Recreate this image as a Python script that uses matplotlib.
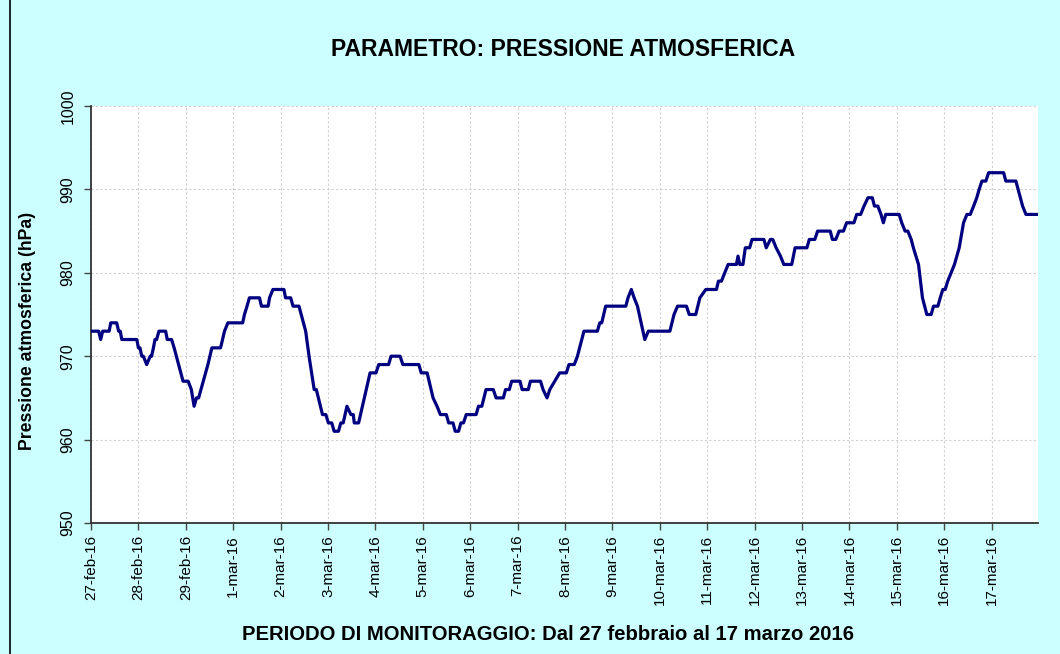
import matplotlib
matplotlib.use("Agg")
import matplotlib.pyplot as plt
from matplotlib.lines import Line2D

plt.rcParams["font.family"] = ["Liberation Sans", "DejaVu Sans"]

# hours since 27-feb-16 00:00 and pressure (hPa)
hours = [0, 3.9, 4.9, 5.9, 9.2, 10, 13, 14, 14.8, 15.6, 23.2, 24, 24.8, 25.7, 26.5, 28.2,
         30, 30.7, 31.6, 32.4, 33.2, 34.4, 37.8, 38.6, 40.8, 42.1, 46.6, 49.2, 50.8, 52.2,
         53.4, 54.5, 59.2, 61.2, 65.6, 67.6, 69.3, 76.8, 77.7, 79, 80.2, 85.3, 86.3, 89.7,
         90.4, 92.1, 97.7, 98.5, 101.1, 102.3, 105.3, 108.7, 110.4, 113, 114.1, 117.2,
         118.9, 120.2, 121.9, 123.1, 125.3, 126.5, 127.7, 129.6, 131.6, 132.8, 133.3,
         135.5, 141.3, 144.3, 145.7, 150.7, 151.9, 156.5, 157.9, 166, 167.2, 170.2, 173.2,
         175.2, 176.9, 179.9, 181.1, 183.3, 184.4, 186.1, 187.3, 188.6, 190, 195, 196.2,
         197.9, 200, 203.7, 205.1, 208.8, 209.9, 211.8, 213, 217.2, 218.3, 221.4, 222.5,
         227.6, 228.9, 230.9, 232.3, 234.8, 237.3, 240.7, 242, 244.7, 246.3, 249.6, 256.4,
         257.6, 258.6, 260.6, 270.8, 271.9, 273.6, 275, 276.7, 280.4, 282.2, 293.1, 295.2,
         297, 301.5, 302.9, 306.2, 308.3, 311.3, 316.7, 317.7, 319.2, 320.9, 322.6, 326.8,
         327.6, 328.5, 330.1, 331.3, 333.5, 334.7, 340.7, 341.9, 344, 345.2, 346.9, 349.1,
         350.8, 354.8, 356.5, 362.5, 363.7, 366.5, 367.9, 374.3, 375.4, 377.1, 378.8, 381,
         382.6, 386.3, 387.7, 389.7, 391.4, 393.4, 395.6, 396.7, 398.4, 400, 401.2, 402.4,
         409.2, 410.5, 412.2, 413.6, 415.3, 416.4, 419, 421, 423.2, 425.4, 426.6, 428.8,
         430, 431.3, 432.5, 433.8, 435.5, 437.2, 439.6, 441.8, 443.5, 445.2, 446.9, 448.5,
         449.7, 451.1, 453.1, 454.5, 462.1, 463.2, 468.3, 471.7, 473.4, 479.5]
pressure = [973, 973, 972, 973, 973, 974, 974, 973, 973, 972, 972, 971, 971, 970, 970, 969,
            970, 970, 971, 972, 972, 973, 973, 972, 972, 971, 967, 967, 966, 964,
            965, 965, 969, 971, 971, 973, 974, 974, 975, 976, 977, 977, 976, 976,
            977, 978, 978, 977, 977, 976, 976, 973, 970, 966, 966, 963,
            963, 962, 962, 961, 961, 962, 962, 964, 963, 963, 962,
            962, 968, 968, 969, 969, 970, 970, 969, 969, 968, 968, 965,
            964, 963, 963, 962, 962, 961, 961, 962, 962, 963, 963, 964,
            964, 966, 966, 965, 965, 966, 966, 967, 967, 966, 966, 967,
            967, 966, 965, 966, 967, 968, 968, 969, 969, 970, 973, 973,
            974, 974, 976, 976, 977, 978, 977, 976, 972, 973, 973, 975,
            976, 976, 975, 975, 977, 978, 978, 979, 979, 980, 981, 981,
            982, 981, 981, 983, 983, 984, 984, 983, 984, 984, 983, 982,
            981, 981, 983, 983, 984, 984, 985, 985, 984, 984, 985, 985,
            986, 986, 987, 987, 988, 989, 989, 988, 988, 987, 986, 987,
            987, 986, 985, 985, 984, 983, 981, 977, 975, 975, 976, 976,
            977, 978, 978, 979, 980, 981, 983, 986, 987, 987, 988, 989,
            990, 991, 991, 992, 992, 991, 991, 988, 987, 987]

day_labels = ["27-feb-16", "28-feb-16", "29-feb-16"] + [f"{d}-mar-16" for d in range(1, 18)]
y_ticks = [950, 960, 970, 980, 990, 1000]

BG = "#CCFFFF"
LINE = "#000080"

fig = plt.figure(figsize=(10.6, 6.54), dpi=100, facecolor=BG)
ax = fig.add_axes([91 / 1060, 1 - 523 / 654, (1038 - 91) / 1060, (523 - 106) / 654])
ax.set_facecolor("white")

ax.plot(hours, pressure, color=LINE, lw=2.3, solid_joinstyle="round", zorder=3)

ax.set_xlim(0, 479.5)
ax.set_ylim(950, 1000)
ax.set_xticks([24 * i for i in range(len(day_labels))])
ax.set_xticklabels(day_labels, rotation=90, fontsize=11)
ax.set_yticks(y_ticks)
ax.set_yticklabels([str(v) for v in y_ticks], rotation=90, va="center", fontsize=11.5)
ax.tick_params(axis="both", direction="out", length=5, width=1, color="#444444")
ax.tick_params(axis="y", pad=6)
ax.grid(True, ls=(0, (2, 2)), color="#CFCFCF", lw=0.8, zorder=0)
for s in ("top", "right"):
    ax.spines[s].set_visible(False)
for s in ("left", "bottom"):
    ax.spines[s].set_color("#333333")
    ax.spines[s].set_linewidth(1.3)

fig.text(28 / 1060, 1 - 331 / 654, "Pressione atmosferica (hPa)", rotation=90,
         ha="center", va="center", fontsize=12.7, fontweight="bold")
fig.text(563 / 1060, 1 - 50 / 654, "PARAMETRO: PRESSIONE ATMOSFERICA",
         ha="center", va="center", fontsize=16.5, fontweight="bold")
fig.text(548 / 1060, 1 - 634 / 654,
         "PERIODO DI MONITORAGGIO: Dal 27 febbraio al 17 marzo 2016",
         ha="center", va="center", fontsize=14.6, fontweight="bold")

fig.add_artist(Line2D([10 / 1060, 10 / 1060], [0, 1], transform=fig.transFigure,
                      color="black", lw=1.2))

fig.savefig("out.png", dpi=100, facecolor=BG)
